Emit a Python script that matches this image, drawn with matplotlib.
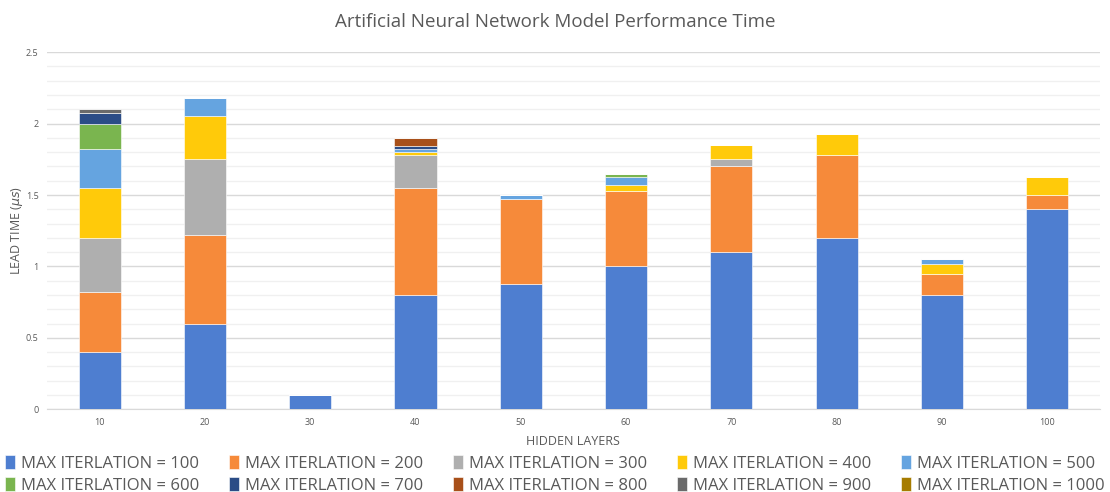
import matplotlib
matplotlib.use("Agg")
import matplotlib.pyplot as plt
import numpy as np
from matplotlib.ticker import MultipleLocator, FuncFormatter

plt.rcParams['font.family'] = ['Open Sans', 'DejaVu Sans']

hidden_layers = ['10', '20', '30', '40', '50', '60', '70', '80', '90', '100']
series_labels = ['MAX ITERLATION = 100', 'MAX ITERLATION = 200', 'MAX ITERLATION = 300',
                 'MAX ITERLATION = 400', 'MAX ITERLATION = 500', 'MAX ITERLATION = 600',
                 'MAX ITERLATION = 700', 'MAX ITERLATION = 800', 'MAX ITERLATION = 900',
                 'MAX ITERLATION = 1000']

# lead time per hidden-layer count, one list per iteration limit
iter_100 = [0.40, 0.60, 0.10, 0.80, 0.875, 1.00, 1.10, 1.20, 0.80, 1.40]
iter_200 = [0.42, 0.62, 0.00, 0.75, 0.60, 0.525, 0.60, 0.58, 0.15, 0.10]
iter_300 = [0.38, 0.53, 0.00, 0.23, 0.00, 0.00, 0.05, 0.00, 0.00, 0.00]
iter_400 = [0.35, 0.30, 0.00, 0.02, 0.00, 0.045, 0.10, 0.145, 0.07, 0.125]
iter_500 = [0.27, 0.13, 0.00, 0.02, 0.025, 0.055, 0.00, 0.00, 0.03, 0.00]
iter_600 = [0.18, 0.00, 0.00, 0.00, 0.00, 0.025, 0.00, 0.00, 0.00, 0.00]
iter_700 = [0.075, 0.00, 0.00, 0.02, 0.00, 0.00, 0.00, 0.00, 0.00, 0.00]
iter_800 = [0.00, 0.00, 0.00, 0.06, 0.00, 0.00, 0.00, 0.00, 0.00, 0.00]
iter_900 = [0.025, 0.00, 0.00, 0.00, 0.00, 0.00, 0.00, 0.00, 0.00, 0.00]
iter_1000 = [0.00, 0.00, 0.00, 0.00, 0.00, 0.00, 0.00, 0.00, 0.00, 0.00]

series = [iter_100, iter_200, iter_300, iter_400, iter_500,
          iter_600, iter_700, iter_800, iter_900, iter_1000]
colors = ['#4E7ED0', '#F68A3A', '#AFAFAF', '#FFCA0A', '#65A4E0',
          '#7AB54F', '#2B4C86', '#A8501A', '#6A6A6A', '#A67C00']

text_color = '#595959'

fig = plt.figure(figsize=(11.1, 4.92), dpi=100)
ax = fig.add_axes([0.0423, 0.168, 0.9486, 0.726])

x = np.arange(len(hidden_layers))
bottom = np.zeros(len(hidden_layers))
for vals, col, lab in zip(series, colors, series_labels):
    v = np.array(vals)
    ax.bar(x, v, width=0.4, bottom=bottom, color=col, label=lab,
           edgecolor='white', linewidth=0.4, zorder=3)
    bottom += v

ax.set_xlim(-0.5, len(hidden_layers) - 0.5)
ax.set_ylim(0, 2.5)
ax.yaxis.set_major_locator(MultipleLocator(0.5))
ax.yaxis.set_minor_locator(MultipleLocator(0.1))
ax.yaxis.set_major_formatter(FuncFormatter(lambda v, p: f'{v:g}'))
ax.grid(axis='y', which='major', color='#D9D9D9', linewidth=1.0, zorder=0)
ax.grid(axis='y', which='minor', color='#F0F0F0', linewidth=1.0, zorder=0)
ax.set_xticks(x)
ax.set_xticklabels(hidden_layers)
ax.tick_params(axis='both', which='both', length=0, labelsize=6.5, labelcolor=text_color)
ax.tick_params(axis='x', pad=6)
ax.tick_params(axis='y', pad=6)
for s in ['top', 'right', 'left']:
    ax.spines[s].set_visible(False)
ax.spines['bottom'].set_color('#D9D9D9')

ax.set_xlabel('HIDDEN LAYERS', fontsize=9, color=text_color, labelpad=6)
ax.set_ylabel(r'LEAD TIME ($\mu s$)', fontsize=9, color=text_color)
ax.yaxis.set_label_coords(-0.021, 0.5)
fig.text(0.5, 0.955, 'Artificial Neural Network Model Performance Time',
         ha='center', va='center', fontsize=13.5, color=text_color)

handles, labels = ax.get_legend_handles_labels()
# fill the legend row by row (matplotlib fills column by column)
order = [0, 5, 1, 6, 2, 7, 3, 8, 4, 9]
fig.legend([handles[i] for i in order], [labels[i] for i in order],
           loc='lower center', bbox_to_anchor=(0.5, -0.02),
           ncol=5, frameon=False, fontsize=12, handlelength=0.6, handleheight=0.9,
           handletextpad=0.35, columnspacing=1.8, labelcolor=text_color,
           labelspacing=0.3, borderaxespad=0.1)

fig.savefig('out.png', dpi=100)
